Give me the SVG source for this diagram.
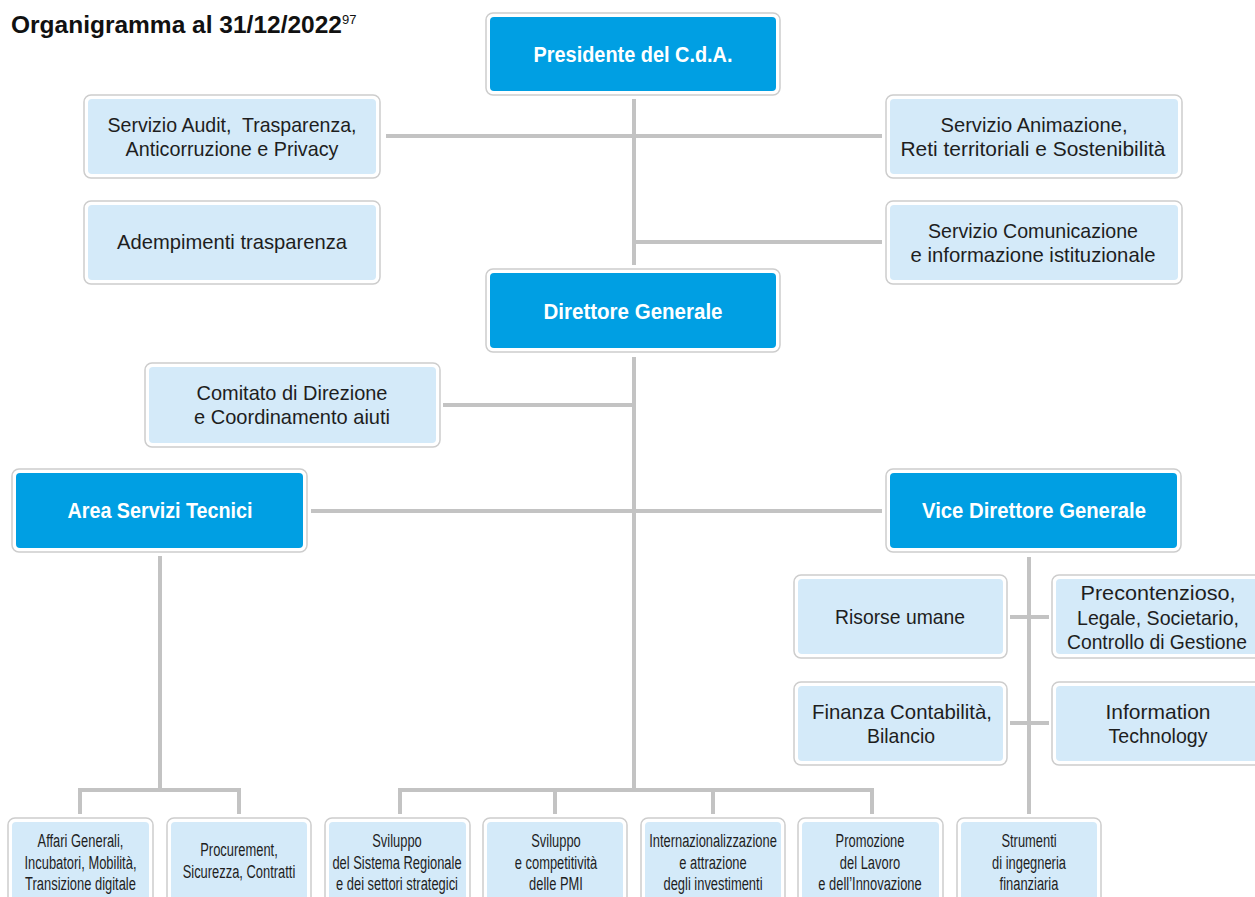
<svg xmlns="http://www.w3.org/2000/svg" width="1255" height="897" viewBox="0 0 1255 897">
<style>
.ob{fill:#fff;stroke:#cdcdcd;stroke-width:1.5}
.lb{fill:#d4eaf9}
.db{fill:#009fe3}
.c{fill:none;stroke:#c3c3c3;stroke-width:4}
text{font-family:"Liberation Sans",Arial,sans-serif;text-anchor:middle}
.t{font-size:21px;fill:#1e1e1e}
.w{font-size:22px;font-weight:bold;fill:#fff}
.s{font-size:19px;fill:#1e1e1e}
.title{font-size:24.5px;font-weight:bold;fill:#111;text-anchor:start}
</style>
<rect width="1255" height="897" fill="#fff"/>
<text class="title" x="11" y="33">Organigramma al 31/12/2022<tspan font-size="13" font-weight="normal" dy="-9">97</tspan></text>

<g id="connectors">
<path class="c" d="M634,99V265"/>
<path class="c" d="M386,136H882"/>
<path class="c" d="M634,242H882"/>
<path class="c" d="M634,357V790"/>
<path class="c" d="M443,405H634"/>
<path class="c" d="M311,511H882"/>
<path class="c" d="M160,556V790"/>
<path class="c" d="M80,814V790H239V814"/>
<path class="c" d="M400,814V790H872V814"/>
<path class="c" d="M555,790V814"/>
<path class="c" d="M713,790V814"/>
<path class="c" d="M1029,557V814"/>
<path class="c" d="M1010,617H1049"/>
<path class="c" d="M1010,723H1049"/>
</g>

<g id="presidente">
<rect class="ob" x="486" y="13" width="294" height="82" rx="7"/>
<rect class="db" x="490" y="17" width="286" height="74" rx="4"/>
<text class="w" x="633" y="62" textLength="199" lengthAdjust="spacingAndGlyphs">Presidente del C.d.A.</text>
</g>
<g id="audit">
<rect class="ob" x="84" y="95" width="296" height="83" rx="7"/>
<rect class="lb" x="88" y="99" width="288" height="75" rx="4"/>
<text class="t" x="232" y="132" xml:space="preserve" textLength="249" lengthAdjust="spacingAndGlyphs">Servizio Audit,  Trasparenza,</text>
<text class="t" x="232" y="156" textLength="213" lengthAdjust="spacingAndGlyphs">Anticorruzione e Privacy</text>
</g>
<g id="adempimenti">
<rect class="ob" x="84" y="201" width="296" height="83" rx="7"/>
<rect class="lb" x="88" y="205" width="288" height="75" rx="4"/>
<text class="t" x="232" y="249" textLength="230" lengthAdjust="spacingAndGlyphs">Adempimenti trasparenza</text>
</g>
<g id="animazione">
<rect class="ob" x="886" y="95" width="296" height="83" rx="7"/>
<rect class="lb" x="890" y="99" width="288" height="75" rx="4"/>
<text class="t" x="1034" y="132" textLength="187" lengthAdjust="spacingAndGlyphs">Servizio Animazione,</text>
<text class="t" x="1033" y="156" textLength="265" lengthAdjust="spacingAndGlyphs">Reti territoriali e Sostenibilità</text>
</g>
<g id="comunicazione">
<rect class="ob" x="886" y="201" width="296" height="83" rx="7"/>
<rect class="lb" x="890" y="205" width="288" height="75" rx="4"/>
<text class="t" x="1033" y="238" textLength="210" lengthAdjust="spacingAndGlyphs">Servizio Comunicazione</text>
<text class="t" x="1033" y="262" textLength="245" lengthAdjust="spacingAndGlyphs">e informazione istituzionale</text>
</g>
<g id="direttore">
<rect class="ob" x="486" y="269" width="294" height="83" rx="7"/>
<rect class="db" x="490" y="273" width="286" height="75" rx="4"/>
<text class="w" x="633" y="319" textLength="179" lengthAdjust="spacingAndGlyphs">Direttore Generale</text>
</g>
<g id="comitato">
<rect class="ob" x="145" y="363" width="295" height="84" rx="7"/>
<rect class="lb" x="149" y="367" width="287" height="76" rx="4"/>
<text class="t" x="292" y="400" textLength="191" lengthAdjust="spacingAndGlyphs">Comitato di Direzione</text>
<text class="t" x="292" y="424" textLength="196" lengthAdjust="spacingAndGlyphs">e Coordinamento aiuti</text>
</g>
<g id="area-servizi-tecnici">
<rect class="ob" x="12" y="469" width="295" height="83" rx="7"/>
<rect class="db" x="16" y="473" width="287" height="75" rx="4"/>
<text class="w" x="160" y="518" textLength="185" lengthAdjust="spacingAndGlyphs">Area Servizi Tecnici</text>
</g>
<g id="vice-direttore">
<rect class="ob" x="886" y="469" width="295" height="83" rx="7"/>
<rect class="db" x="890" y="473" width="287" height="75" rx="4"/>
<text class="w" x="1034" y="518" textLength="224" lengthAdjust="spacingAndGlyphs">Vice Direttore Generale</text>
</g>
<g id="risorse-umane">
<rect class="ob" x="794" y="575" width="213" height="83" rx="7"/>
<rect class="lb" x="798" y="579" width="205" height="75" rx="4"/>
<text class="t" x="900" y="624" textLength="130" lengthAdjust="spacingAndGlyphs">Risorse umane</text>
</g>
<g id="precontenzioso">
<rect class="ob" x="1052" y="575" width="215" height="83" rx="7"/>
<rect class="lb" x="1056" y="579" width="207" height="75" rx="4"/>
<text class="t" x="1158" y="600" textLength="155" lengthAdjust="spacingAndGlyphs">Precontenzioso,</text>
<text class="t" x="1158" y="625" textLength="162" lengthAdjust="spacingAndGlyphs">Legale, Societario,</text>
<text class="t" x="1157" y="649" style="font-size:19.5px" textLength="180" lengthAdjust="spacingAndGlyphs">Controllo di Gestione</text>
</g>
<g id="finanza">
<rect class="ob" x="794" y="682" width="213" height="83" rx="7"/>
<rect class="lb" x="798" y="686" width="205" height="75" rx="4"/>
<text class="t" x="902" y="719" textLength="180" lengthAdjust="spacingAndGlyphs">Finanza Contabilità,</text>
<text class="t" x="901" y="743" textLength="68" lengthAdjust="spacingAndGlyphs">Bilancio</text>
</g>
<g id="information-technology">
<rect class="ob" x="1052" y="682" width="215" height="83" rx="7"/>
<rect class="lb" x="1056" y="686" width="207" height="75" rx="4"/>
<text class="t" x="1158" y="719" textLength="105" lengthAdjust="spacingAndGlyphs">Information</text>
<text class="t" x="1158" y="743" textLength="99" lengthAdjust="spacingAndGlyphs">Technology</text>
</g>

<g id="affari-generali">
<rect class="ob" x="8" y="818" width="145" height="90" rx="7"/>
<rect class="lb" x="12" y="822" width="137" height="82" rx="4"/>
<g transform="translate(80.5,0) scale(0.68,1)">
<text class="s" x="0" y="847">Affari Generali,</text>
<text class="s" x="0" y="869">Incubatori, Mobilità,</text>
<text class="s" x="0" y="890">Transizione digitale</text>
</g>
</g>
<g id="procurement">
<rect class="ob" x="167" y="818" width="144" height="90" rx="7"/>
<rect class="lb" x="171" y="822" width="136" height="82" rx="4"/>
<g transform="translate(239,0) scale(0.68,1)">
<text class="s" x="0" y="856">Procurement,</text>
<text class="s" x="0" y="878">Sicurezza, Contratti</text>
</g>
</g>
<g id="sviluppo-sistema-regionale">
<rect class="ob" x="325" y="818" width="145" height="90" rx="7"/>
<rect class="lb" x="329" y="822" width="137" height="82" rx="4"/>
<g transform="translate(397,0) scale(0.68,1)">
<text class="s" x="0" y="847">Sviluppo</text>
<text class="s" x="0" y="869">del Sistema Regionale</text>
<text class="s" x="0" y="890">e dei settori strategici</text>
</g>
</g>
<g id="sviluppo-pmi">
<rect class="ob" x="483" y="818" width="144" height="90" rx="7"/>
<rect class="lb" x="487" y="822" width="136" height="82" rx="4"/>
<g transform="translate(556,0) scale(0.68,1)">
<text class="s" x="0" y="847">Sviluppo</text>
<text class="s" x="0" y="869">e competitività</text>
<text class="s" x="0" y="890">delle PMI</text>
</g>
</g>
<g id="internazionalizzazione">
<rect class="ob" x="641" y="818" width="144" height="90" rx="7"/>
<rect class="lb" x="645" y="822" width="136" height="82" rx="4"/>
<g transform="translate(713,0) scale(0.68,1)">
<text class="s" x="0" y="847">Internazionalizzazione</text>
<text class="s" x="0" y="869">e attrazione</text>
<text class="s" x="0" y="890">degli investimenti</text>
</g>
</g>
<g id="promozione-lavoro">
<rect class="ob" x="798" y="818" width="145" height="90" rx="7"/>
<rect class="lb" x="802" y="822" width="137" height="82" rx="4"/>
<g transform="translate(870,0) scale(0.68,1)">
<text class="s" x="0" y="847">Promozione</text>
<text class="s" x="0" y="869">del Lavoro</text>
<text class="s" x="0" y="890">e dell’Innovazione</text>
</g>
</g>
<g id="strumenti-ingegneria">
<rect class="ob" x="957" y="818" width="144" height="90" rx="7"/>
<rect class="lb" x="961" y="822" width="136" height="82" rx="4"/>
<g transform="translate(1029,0) scale(0.68,1)">
<text class="s" x="0" y="847">Strumenti</text>
<text class="s" x="0" y="869">di ingegneria</text>
<text class="s" x="0" y="890">finanziaria</text>
</g>
</g>
</svg>
